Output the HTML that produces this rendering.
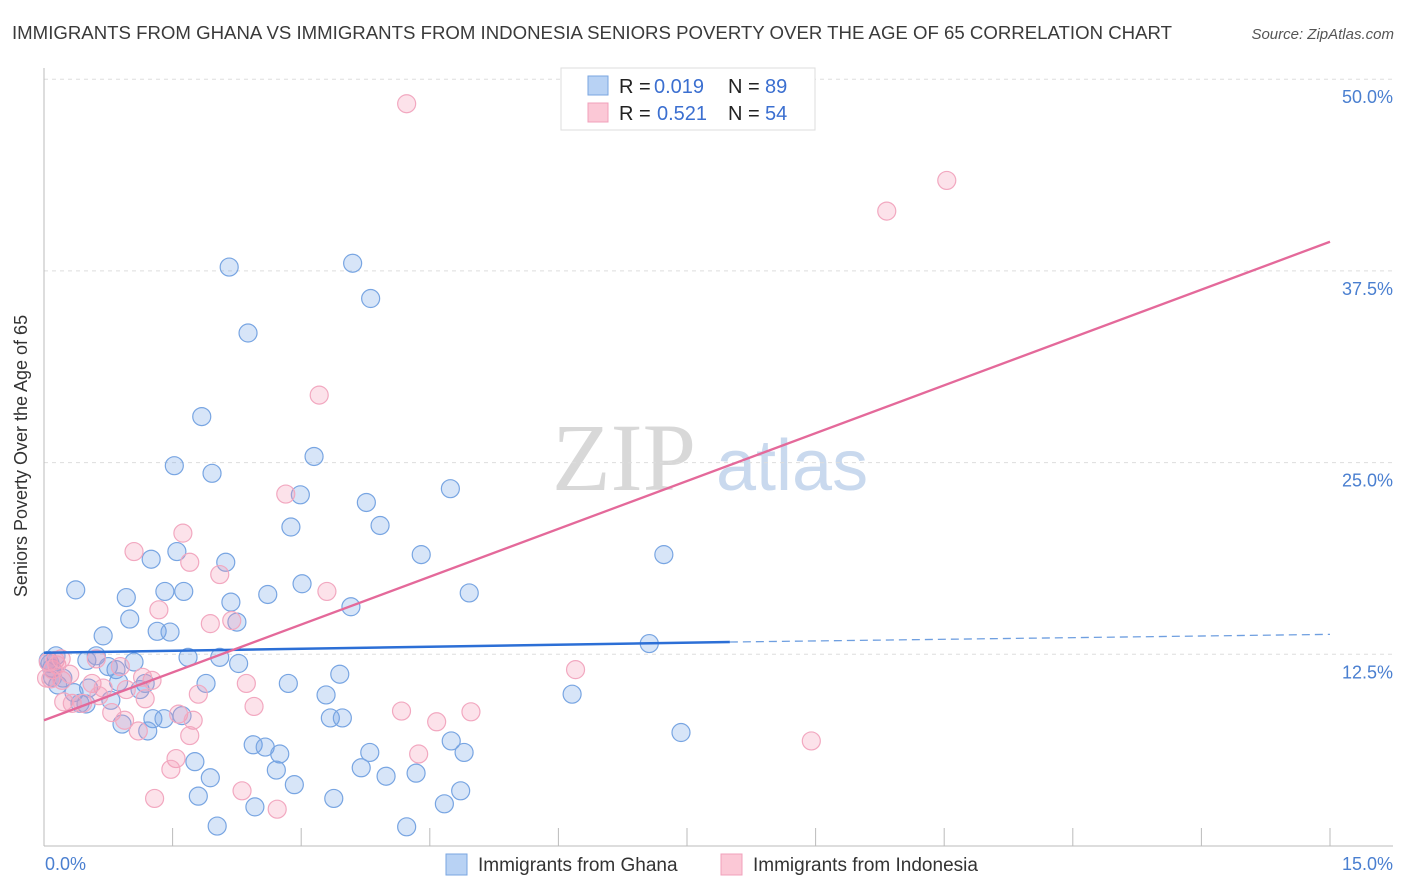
<!DOCTYPE html>
<html><head><meta charset="utf-8"><style>
body{margin:0;background:#fff;font-family:"Liberation Sans",sans-serif;}
svg{display:block}
</style></head><body>
<svg id="chart" width="1406" height="892">
<text x="12" y="39" font-size="18" fill="#3a3a3a" textLength="1160" lengthAdjust="spacingAndGlyphs">IMMIGRANTS FROM GHANA VS IMMIGRANTS FROM INDONESIA SENIORS POVERTY OVER THE AGE OF 65 CORRELATION CHART</text>
<text x="1394" y="39" font-size="15" fill="#555" font-style="italic" text-anchor="end">Source: ZipAtlas.com</text>
<g><text x="552" y="490" font-size="96" font-family="Liberation Serif,serif" fill="#d8d8d8">ZIP</text><text x="716" y="490" font-size="72" fill="#c9d9ee">atlas</text></g>
<g id="grid"></g><g id="marks"></g><g id="lines"></g>
<text x="27" y="456" font-size="18" fill="#333" text-anchor="middle" transform="rotate(-90 27 456)">Seniors Poverty Over the Age of 65</text>
<text x="45" y="870" font-size="18" fill="#4a7fd0">0.0%</text>
<text x="1393" y="870" font-size="18" fill="#4a7fd0" text-anchor="end">15.0%</text>
<g>
<rect x="561" y="68" width="254" height="62" fill="#fff" stroke="#ddd"/>
<rect x="588" y="76" width="20" height="19" fill="#b8d2f4" stroke="#7aa6e0"/>
<rect x="588" y="103" width="20" height="19" fill="#fbc8d6" stroke="#f0a0bb"/>
<text x="619" y="93" font-size="20" fill="#222">R =</text>
<text x="654" y="93" font-size="20" fill="#3b6fd0">0.019</text>
<text x="728" y="93" font-size="20" fill="#222">N =</text>
<text x="765" y="93" font-size="20" fill="#3b6fd0">89</text>
<text x="619" y="120" font-size="20" fill="#222">R =</text>
<text x="657" y="120" font-size="20" fill="#3b6fd0">0.521</text>
<text x="728" y="120" font-size="20" fill="#222">N =</text>
<text x="765" y="120" font-size="20" fill="#3b6fd0">54</text>
</g>
<g>
<rect x="446" y="854" width="21" height="21" fill="#b8d2f4" stroke="#7aa6e0"/>
<text x="478" y="871" font-size="19" fill="#333">Immigrants from Ghana</text>
<rect x="721" y="854" width="21" height="21" fill="#fbc8d6" stroke="#f0a0bb"/>
<text x="753" y="871" font-size="19" fill="#333">Immigrants from Indonesia</text>
</g>
</svg>
<script>
const yTicks=[12.5,25,37.5,50];
const yTickLabels=["12.5%","25.0%","37.5%","50.0%"];
const xTicks=[0,1.5,3,4.5,6,7.5,9,10.5,12,13.5,15];
const ghanaX=[2.16,3.6,3.81,2.38,1.84,3.15,1.52,1.96,4.74,2.99,3.76,2.88,3.92,4.4,7.23,1.55,1.25,2.12,0.37,1.41,1.63,3.01,0.96,2.61,4.96,2.18,3.58,1.0,2.25,1.32,1.47,0.69,7.06,0.14,0.5,0.61,1.05,1.68,2.05,2.27,0.75,0.84,0.09,0.22,3.45,0.16,0.52,0.87,1.12,1.89,2.85,1.18,6.16,3.29,0.35,0.42,0.49,0.78,1.27,1.61,0.91,1.21,1.4,3.34,3.48,7.43,2.44,2.58,2.75,4.75,3.8,4.9,1.76,2.71,3.7,3.99,4.34,1.94,2.92,4.86,1.8,2.46,3.38,4.67,2.02,4.23,0.05,0.07,0.1];
const ghanaY=[37.75,38.0,35.7,33.45,28.0,25.4,24.8,24.3,23.3,22.9,22.4,20.8,20.9,19.0,19.0,19.2,18.7,18.5,16.7,16.6,16.6,17.1,16.2,16.4,16.5,15.9,15.6,14.8,14.6,14.0,13.95,13.7,13.2,12.4,12.1,12.4,12.0,12.3,12.3,11.9,11.7,11.5,11.6,10.95,11.2,10.5,10.3,10.7,10.2,10.6,10.6,10.6,9.9,9.85,10.0,9.3,9.26,9.5,8.3,8.5,7.95,7.5,8.3,8.35,8.35,7.4,6.6,6.45,6.0,6.85,6.1,6.1,5.5,4.95,5.1,4.55,4.75,4.45,4.0,3.6,3.25,2.55,3.1,2.75,1.3,1.25,12.1,11.9,11.0];
const indoX=[4.23,10.53,9.83,3.21,1.62,2.82,1.05,1.7,2.05,3.3,1.34,1.94,2.19,0.13,0.61,0.89,6.2,1.26,1.15,2.36,0.56,0.21,0.69,0.96,1.8,1.18,0.23,0.33,0.79,1.57,2.45,4.17,4.98,4.58,0.94,1.74,1.1,1.7,8.95,4.37,1.54,1.48,1.29,2.31,2.72,0.03,0.64,0.1,0.05,0.3,0.45,0.15,0.08,0.2];
const indoY=[48.4,43.4,41.4,29.4,20.4,22.95,19.2,18.5,17.7,16.6,15.4,14.5,14.7,12.1,12.2,11.7,11.5,10.8,11.0,10.6,10.6,10.8,10.3,10.2,9.9,9.6,9.4,9.3,8.7,8.6,9.1,8.8,8.75,8.1,8.2,8.2,7.5,7.2,6.85,6.0,5.7,5.0,3.1,3.6,2.4,10.95,9.8,11.5,12.0,11.2,9.3,11.8,10.9,12.2];
const ghanaTrend=[12.6,13.3];
const ghanaTrendEnd=13.8;
const indoTrend=[8.2,39.4];
const NS="http://www.w3.org/2000/svg";
const sx=v=>44+v/15*1286;
const sy=v=>846-v/12.5*191.7;
function mk(t,a,p){const e=document.createElementNS(NS,t);for(const k in a)e.setAttribute(k,a[k]);p.appendChild(e);return e;}
const grid=document.getElementById('grid');
yTicks.forEach((t,i)=>{
 const l=mk('line',{x1:44,x2:1393,y1:sy(t),y2:sy(t),stroke:'#ddd','stroke-dasharray':'4,4'},grid);
 
 
 const tx=mk('text',{x:1393,y:sy(t)+24,'font-size':18,fill:'#4a7fd0','text-anchor':'end'},grid);
 tx.textContent=yTickLabels[i];
 
 
});
const ax=mk('line',{x1:44,x2:44,y1:68,y2:846,stroke:'#bbb'},grid);


const bx=mk('line',{x1:44,x2:1393,y1:846,y2:846,stroke:'#bbb'},grid);


xTicks.forEach(t=>{
 const l=mk('line',{x1:sx(t),x2:sx(t),y1:828,y2:846,stroke:'#bbb'},grid);
 
 
});
const marks=document.getElementById('marks');
ghanaX.forEach((x,i)=>{
 const c=mk('circle',{cx:sx(x),cy:sy(ghanaY[i]),r:9,fill:'rgba(110,160,230,0.28)',stroke:'#78a5e2','stroke-width':1.2},marks);
 
 
});
indoX.forEach((x,i)=>{
 const c=mk('circle',{cx:sx(x),cy:sy(indoY[i]),r:9,fill:'rgba(245,150,180,0.28)',stroke:'#f2a8c0','stroke-width':1.2},marks);
 
 
});
const lines=document.getElementById('lines');
const g1=mk('line',{x1:sx(0),y1:sy(ghanaTrend[0]),x2:sx(8.0),y2:sy(ghanaTrend[1]),stroke:'#2c6fd6','stroke-width':2.5},lines);


const g2=mk('line',{x1:sx(8.0),y1:sy(ghanaTrend[1]),x2:sx(15),y2:sy(ghanaTrendEnd),stroke:'#6f9fe0','stroke-width':1.3,'stroke-dasharray':'8,5'},lines);


const p1=mk('line',{x1:sx(0),y1:sy(indoTrend[0]),x2:sx(15),y2:sy(indoTrend[1]),stroke:'#e4699a','stroke-width':2.3},lines);


</script>
</body></html>
